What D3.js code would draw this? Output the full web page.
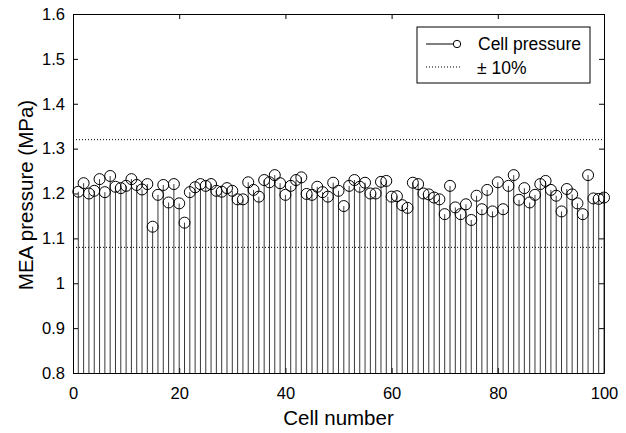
<!DOCTYPE html>
<html>
<head>
<meta charset="utf-8">
<script src="https://cdn.jsdelivr.net/npm/d3@7"></script>
<style>
  body { margin: 0; background: #fff; }
  text { font-family: "Liberation Sans", Arial, sans-serif; fill: #000; }
</style>
</head>
<body>
<div id="chart"></div>
<script>
// cell numbers 1..100 and measured pressures (MPa)
let cells = d3.range(1, 101)
let pressure = [
  1.204, 1.223, 1.200, 1.206, 1.232, 1.203, 1.239, 1.215, 1.212, 1.217,
  1.232, 1.219, 1.209, 1.221, 1.126, 1.197, 1.219, 1.180, 1.221, 1.178,
  1.135, 1.203, 1.214, 1.221, 1.217, 1.221, 1.206, 1.204, 1.212, 1.206,
  1.187, 1.187, 1.225, 1.208, 1.193, 1.230, 1.225, 1.241, 1.223, 1.197,
  1.217, 1.230, 1.236, 1.199, 1.197, 1.215, 1.203, 1.193, 1.224, 1.206,
  1.172, 1.217, 1.230, 1.215, 1.224, 1.200, 1.200, 1.226, 1.228, 1.193,
  1.194, 1.174, 1.168, 1.224, 1.221, 1.200, 1.198, 1.191, 1.187, 1.154,
  1.217, 1.169, 1.154, 1.176, 1.141, 1.195, 1.165, 1.208, 1.160, 1.225,
  1.165, 1.217, 1.241, 1.186, 1.212, 1.180, 1.197, 1.221, 1.228, 1.208,
  1.195, 1.160, 1.210, 1.198, 1.178, 1.154, 1.241, 1.189, 1.188, 1.191
]
let limits = [1.32, 1.08]   // ± 10% band
let xTicks = [0, 20, 40, 60, 80, 100]
let yTicks = [0.8, 0.9, 1, 1.1, 1.2, 1.3, 1.4, 1.5, 1.6]

let width = 626
let height = 433
let mLeft = 73, mRight = 604, mTop = 14, mBottom = 373

let svg = d3.select('#chart').append('svg')
  .attr('width', width)
  .attr('height', height)

let xScale = d3.scaleLinear().domain([0, 100]).range([mLeft, mRight])
let yScale = d3.scaleLinear().domain([0.8, 1.6]).range([mBottom, mTop])

// axes, MATLAB style: inward ticks, mirrored on top/right
function styleAxis(g) {
  g.select('.domain').attr('stroke', '#000').attr('stroke-width', 1)
  g.selectAll('.tick line').attr('stroke', '#000').attr('stroke-width', 1)
  g.selectAll('.tick text').attr('font-size', 16.5).style('font-family', '"Liberation Sans", Arial, sans-serif')
}

svg.append('g')
  .attr('transform', 'translate(0,' + mBottom + ')')
  .call(d3.axisBottom(xScale).tickValues(xTicks).tickFormat(d3.format('d')).tickSizeInner(-5).tickSizeOuter(0).tickPadding(14))
  .call(styleAxis)
svg.append('g')
  .attr('transform', 'translate(0,' + mTop + ')')
  .call(d3.axisTop(xScale).tickValues(xTicks).tickFormat('').tickSizeInner(-5).tickSizeOuter(0))
  .call(styleAxis)
svg.append('g')
  .attr('transform', 'translate(' + mLeft + ',0)')
  .call(d3.axisLeft(yScale).tickValues(yTicks).tickFormat(d => String(d)).tickSizeInner(-5).tickSizeOuter(0).tickPadding(8))
  .call(styleAxis)
svg.append('g')
  .attr('transform', 'translate(' + mRight + ',0)')
  .call(d3.axisRight(yScale).tickValues(yTicks).tickFormat('').tickSizeInner(-5).tickSizeOuter(0))
  .call(styleAxis)

// dotted limit lines
svg.selectAll('line.limit')
  .data(limits)
  .enter()
  .append('line')
  .attr('class', 'limit')
  .attr('x1', mLeft).attr('x2', mRight)
  .attr('y1', d => yScale(d)).attr('y2', d => yScale(d))
  .attr('stroke', '#000')
  .attr('stroke-width', 1)
  .attr('stroke-dasharray', '1,2')

// stems
let data = cells.map((c, i) => ({ cell: c, p: pressure[i] }))
svg.selectAll('line.stem')
  .data(data)
  .enter()
  .append('line')
  .attr('class', 'stem')
  .attr('x1', d => xScale(d.cell)).attr('x2', d => xScale(d.cell))
  .attr('y1', yScale(0.8)).attr('y2', d => yScale(d.p))
  .attr('stroke', '#222')
  .attr('stroke-width', 0.9)

svg.selectAll('circle.mark')
  .data(data)
  .enter()
  .append('circle')
  .attr('class', 'mark')
  .attr('cx', d => xScale(d.cell))
  .attr('cy', d => yScale(d.p))
  .attr('r', 5.5)
  .attr('fill', 'none')
  .attr('stroke', '#000')
  .attr('stroke-width', 1)

// axis titles
svg.append('text')
  .attr('x', (mLeft + mRight) / 2)
  .attr('y', 425)
  .attr('text-anchor', 'middle')
  .attr('font-size', 20.5)
  .text('Cell number')
svg.append('text')
  .attr('transform', 'translate(33,195) rotate(-90)')
  .attr('text-anchor', 'middle')
  .attr('font-size', 20.5)
  .text('MEA pressure (MPa)')

// legend
let legend = svg.append('g')
legend.append('rect')
  .attr('x', 417).attr('y', 27)
  .attr('width', 173).attr('height', 56)
  .attr('fill', '#fff').attr('stroke', '#000').attr('stroke-width', 1)
legend.append('line')
  .attr('x1', 426).attr('x2', 453).attr('y1', 44).attr('y2', 44)
  .attr('stroke', '#000')
legend.append('circle')
  .attr('cx', 457).attr('cy', 44).attr('r', 3.7)
  .attr('fill', 'none').attr('stroke', '#000')
legend.append('text')
  .attr('x', 478).attr('y', 50)
  .attr('font-size', 17.5)
  .text('Cell pressure')
legend.append('line')
  .attr('x1', 426).attr('x2', 461).attr('y1', 67).attr('y2', 67)
  .attr('stroke', '#000').attr('stroke-dasharray', '1,2')
legend.append('text')
  .attr('x', 477).attr('y', 74)
  .attr('font-size', 17.5)
  .text('± 10%')
</script>
</body>
</html>
